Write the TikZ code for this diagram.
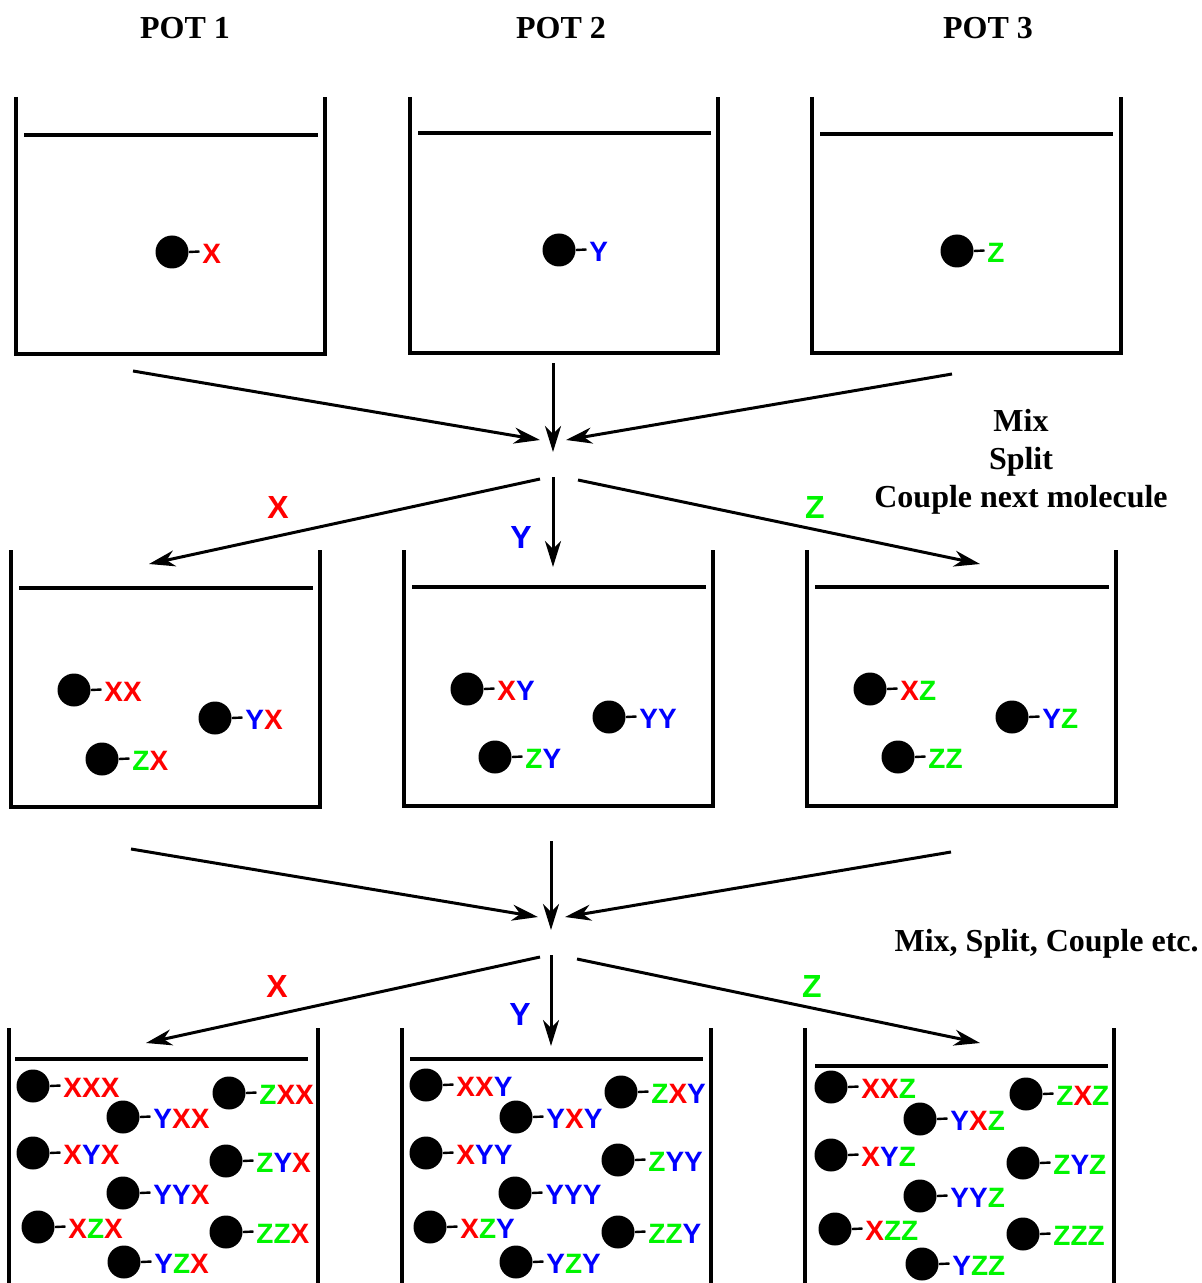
\documentclass[tikz,border=0pt]{standalone}
\usepackage{fontspec}
\setmainfont{Liberation Serif}
\newfontfamily\lblfont{Liberation Sans}
\usetikzlibrary{arrows.meta}
\definecolor{xred}{RGB}{255,0,0}
\definecolor{xblue}{RGB}{0,0,255}
\definecolor{xgreen}{RGB}{0,245,0}
\newcommand\molX{\textcolor{xred}{X}}
\newcommand\molY{\textcolor{xblue}{Y}}
\newcommand\molZ{\textcolor{xgreen}{Z}}
\begin{document}
\begin{tikzpicture}[x=0.5pt,y=-0.5pt,
  potline/.style={line width=1.6pt},
  flow/.style={line width=1.5pt,-{Stealth[length=13pt,width=8pt,inset=4pt]}},
  bead/.style={circle,fill=black,minimum size=16.5pt,inner sep=0pt},
  stem/.style={line width=1.2pt},
  tag/.style={font=\lblfont\bfseries\fontsize{14}{16}\selectfont,anchor=west,inner sep=1pt},
  arrowtag/.style={font=\lblfont\bfseries\fontsize{16}{18}\selectfont,inner sep=0pt},
  title/.style={font=\bfseries\fontsize{16}{19}\selectfont,inner sep=0pt},
  note/.style={font=\bfseries\fontsize{16}{19}\selectfont,align=center,inner sep=0pt}]
\useasboundingbox (0,0) rectangle (1201,1283);

\newcommand\pot[7]{%
  \draw[potline] (#1,#3) -- (#1,#4) -- (#2,#4) -- (#2,#3);
  \draw[potline] (#6,#5) -- (#7,#5);}
\newcommand\openpot[5]{%
  \draw[potline] (#1,#3) -- (#1,1283);
  \draw[potline] (#2,#3) -- (#2,1283);
  \draw[potline] (#4,#5) -- (#4+293,#5);}
\newcommand\mol[4]{%
  \node[bead] (#1) at (#2,#3) {};
  \node[tag] (#1t) at ({#2+28},{#3+1.5}) {#4};
  \draw[stem] (#1.east) -- ({#2+27.5},{#3-0.5});}

% titles
\node[title] (t1) at (185,28) {POT 1};
\node[title] (t2) at (561,28) {POT 2};
\node[title] (t3) at (988,28) {POT 3};

% row 1 pots
\pot{16}{325}{97}{354}{135}{24}{318}
\pot{410}{718}{97}{353}{133}{418}{711}
\pot{812}{1121}{97}{353}{134}{820}{1113}
\mol{a1}{172}{252}{\molX}
\mol{a2}{559}{250}{\molY}
\mol{a3}{957}{251}{\molZ}

% mix / split 1
\coordinate (m1a) at (133,371);
\coordinate (m1b) at (540,440);
\coordinate (m1c) at (553,363);
\coordinate (m1d) at (553,452);
\coordinate (m1e) at (952,374);
\coordinate (m1f) at (566,440);
\draw[flow] (m1a) -- (m1b);
\draw[flow] (m1c) -- (m1d);
\draw[flow] (m1e) -- (m1f);
\coordinate (s1a) at (540,479);
\coordinate (s1b) at (149,564);
\coordinate (s1c) at (553,477);
\coordinate (s1d) at (553,567);
\coordinate (s1e) at (578,480);
\coordinate (s1f) at (980,564);
\draw[flow] (s1a) -- (s1b);
\draw[flow] (s1c) -- (s1d);
\draw[flow] (s1e) -- (s1f);
\node[arrowtag,text=xred] (l1x) at (278,507) {X};
\node[arrowtag,text=xblue] (l1y) at (521,537) {Y};
\node[arrowtag,text=xgreen] (l1z) at (815,507) {Z};
\node[note] (n1) at (1021,462) {Mix\\Split\\Couple next molecule};

% row 2 pots
\pot{11}{320}{550}{807}{588}{19}{313}
\pot{404}{713}{550}{806}{587}{412}{706}
\pot{807}{1116}{550}{806}{587}{815}{1109}
\mol{b1}{74}{690}{\molX\molX}
\mol{b2}{215}{718}{\molY\molX}
\mol{b3}{102}{759}{\molZ\molX}
\mol{b4}{467}{689}{\molX\molY}
\mol{b5}{609}{717}{\molY\molY}
\mol{b6}{495}{757}{\molZ\molY}
\mol{b7}{870}{689}{\molX\molZ}
\mol{b8}{1012}{717}{\molY\molZ}
\mol{b9}{898}{757}{\molZ\molZ}

% mix / split 2
\coordinate (m2a) at (131,849);
\coordinate (m2b) at (538,917);
\coordinate (m2c) at (551,841);
\coordinate (m2d) at (551,930);
\coordinate (m2e) at (951,852);
\coordinate (m2f) at (565,917);
\draw[flow] (m2a) -- (m2b);
\draw[flow] (m2c) -- (m2d);
\draw[flow] (m2e) -- (m2f);
\coordinate (s2a) at (540,957);
\coordinate (s2b) at (146,1043);
\coordinate (s2c) at (551,955);
\coordinate (s2d) at (551,1046);
\coordinate (s2e) at (577,959);
\coordinate (s2f) at (980,1043);
\draw[flow] (s2a) -- (s2b);
\draw[flow] (s2c) -- (s2d);
\draw[flow] (s2e) -- (s2f);
\node[arrowtag,text=xred] (l2x) at (277,986) {X};
\node[arrowtag,text=xblue] (l2y) at (520,1014) {Y};
\node[arrowtag,text=xgreen] (l2z) at (812,986) {Z};
\node[note,anchor=east] (n2) at (1199,944) {Mix, Split, Couple etc.};

% row 3 pots
\openpot{9}{318}{1028}{15}{1059}
\openpot{402}{711}{1028}{410}{1059}
\openpot{805}{1114}{1028}{815}{1066}

\mol{c1}{33}{1086}{\molX\molX\molX}
\mol{c2}{123}{1117}{\molY\molX\molX}
\mol{c3}{229}{1093}{\molZ\molX\molX}
\mol{c4}{33}{1153}{\molX\molY\molX}
\mol{c5}{226}{1161}{\molZ\molY\molX}
\mol{c6}{123}{1193}{\molY\molY\molX}
\mol{c7}{38}{1227}{\molX\molZ\molX}
\mol{c8}{226}{1232}{\molZ\molZ\molX}
\mol{c9}{124}{1262}{\molY\molZ\molX}

\mol{d1}{426}{1085}{\molX\molX\molY}
\mol{d2}{516}{1117}{\molY\molX\molY}
\mol{d3}{621}{1092}{\molZ\molX\molY}
\mol{d4}{426}{1153}{\molX\molY\molY}
\mol{d5}{618}{1160}{\molZ\molY\molY}
\mol{d6}{515}{1193}{\molY\molY\molY}
\mol{d7}{430}{1227}{\molX\molZ\molY}
\mol{d8}{618}{1232}{\molZ\molZ\molY}
\mol{d9}{516}{1262}{\molY\molZ\molY}

\mol{e1}{831}{1087}{\molX\molX\molZ}
\mol{e2}{920}{1119}{\molY\molX\molZ}
\mol{e3}{1026}{1094}{\molZ\molX\molZ}
\mol{e4}{831}{1155}{\molX\molY\molZ}
\mol{e5}{1023}{1163}{\molZ\molY\molZ}
\mol{e6}{920}{1196}{\molY\molY\molZ}
\mol{e7}{835}{1229}{\molX\molZ\molZ}
\mol{e8}{1023}{1234}{\molZ\molZ\molZ}
\mol{e9}{922}{1264}{\molY\molZ\molZ}
\end{tikzpicture}
\end{document}
